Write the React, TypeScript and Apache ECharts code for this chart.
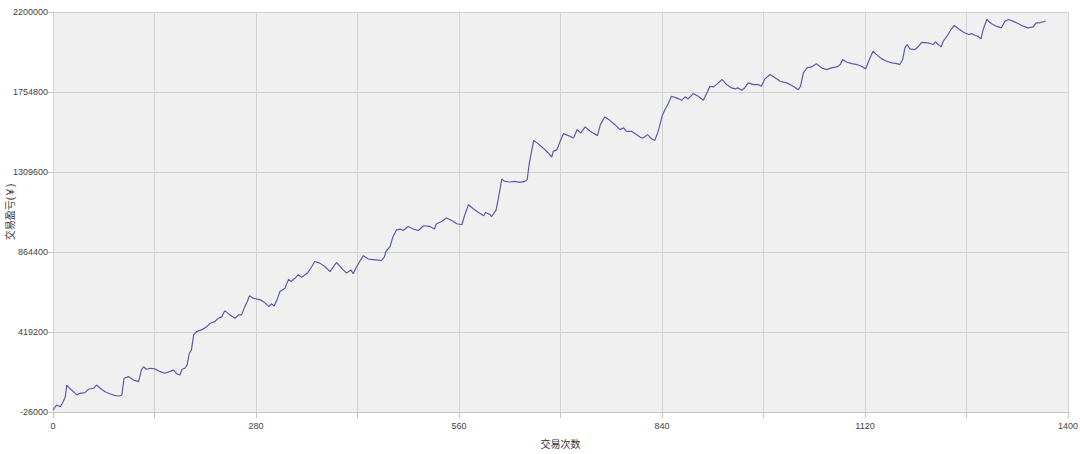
import React, { useEffect, useRef } from "react";
import * as echarts from "echarts";

// Trade index (交易次数)
const trades: number[] = [
  0, 5, 10, 14, 17, 19, 23, 33, 37, 44, 49, 56, 60, 65, 72, 79, 86, 92, 95, 98,
  104, 111, 118, 122, 125, 129, 134, 141, 148, 154, 161, 166, 171, 175, 178, 182, 185, 188, 191, 194,
  198, 205, 212, 217, 223, 228, 233,
  237, 244, 251, 256, 260, 265, 268, 271, 276, 286, 292, 298, 301, 305, 309, 313, 320, 325, 328, 334,
  338, 343, 351, 357, 361, 368, 375, 382, 391, 398, 405, 411, 414, 419, 423, 428, 435, 446, 453, 457, 459,
  465, 469, 474, 479, 483, 490, 497, 504, 511, 520, 526, 529, 536, 543, 550, 557, 564, 568, 573, 580,
  587, 594, 597, 603, 605, 611, 614, 619, 623, 630, 637, 644, 651, 654, 657, 663, 669, 676, 683, 688,
  690, 695, 699, 704,
  711, 718, 723, 728, 734, 741, 745, 751, 755, 761, 768, 775, 782, 787, 791, 798, 805, 810, 814, 820,
  826, 830, 834, 836, 840, 844, 849, 853, 860, 867, 872, 876, 883, 890, 897, 902, 906, 911, 915, 923,
  929, 936,
  941, 945, 950, 954, 959, 966, 973, 977, 982, 989, 996, 1003, 1012, 1021, 1028, 1031, 1035, 1040, 1046, 1053,
  1060, 1067, 1074, 1081, 1086, 1089, 1095, 1102, 1109, 1115, 1121, 1125, 1131, 1136, 1143, 1150, 1157, 1164, 1168,
  1172, 1175, 1178, 1182, 1189, 1194, 1198, 1207, 1214, 1217, 1221, 1225, 1228, 1233, 1238, 1243, 1249, 1256, 1263,
  1267, 1272, 1276, 1280, 1283, 1288, 1294, 1301, 1308, 1313, 1318, 1324, 1331, 1338, 1345, 1352, 1356, 1361, 1369,
];

// Cumulative profit/loss (交易盈亏 ￥)
const pnl: number[] = [
  -15000, 13000, 3500, 31000, 59000, 124000, 106000, 69000, 78000, 81500, 100500, 106000, 124000, 106000, 87000, 74000, 65000, 63000, 69000, 162000,
  171000, 152000, 143000, 208000, 226000, 212000, 217500, 213500, 198500, 189500, 198500, 208000, 185500, 180000, 212000, 217500, 236000, 301000, 319500, 403000,
  421000, 431000, 449000, 468000, 477000, 496000, 505000,
  538000, 514500, 496000, 514500, 514500, 564500, 588500, 620500, 607500, 598000, 583000, 560500, 576000, 564500, 598000, 644500, 663000, 713500, 700000, 719000,
  737500, 724500, 747000, 783500, 811500, 802500, 783500, 755500, 806000, 774500, 747000, 765000, 743000, 783500, 811500, 843000, 825000, 821000, 817000, 836000, 867000,
  895000, 951000, 988000, 992000, 984000, 1006500, 992000, 984000, 1010500, 1006500, 992000, 1021500, 1034500, 1053500, 1040000, 1021500, 1016000, 1071500, 1127500, 1103500,
  1084500, 1066000, 1084500, 1071500, 1062000, 1095500, 1155500, 1270500, 1257500, 1254000, 1257500, 1251500, 1257500, 1266500, 1359500, 1485500, 1467500, 1443500, 1415500, 1393000,
  1424500, 1434000, 1475500, 1523000,
  1512000, 1499000, 1545500, 1527000, 1560500, 1536000, 1527000, 1512000, 1573000, 1616000, 1597000, 1573000, 1545500, 1555000, 1536000, 1536000, 1517500, 1502500, 1499000, 1517500,
  1493500, 1485500, 1527000, 1555000, 1619500, 1656500, 1694000, 1731000, 1722000, 1708500, 1727500, 1716500, 1746000, 1731000, 1708500, 1750000, 1786500, 1783000, 1796000, 1824000,
  1796000, 1777500,
  1772000, 1777500, 1764500, 1777500, 1805500, 1796000, 1796000, 1786500, 1828000, 1852000, 1833500, 1814500, 1805500, 1786500, 1768000, 1786500, 1861000, 1889000, 1894500, 1911500,
  1889000, 1879500, 1889000, 1894500, 1907500, 1935500, 1920500, 1913000, 1907500, 1898000, 1883500, 1926000, 1981500, 1963000, 1939000, 1926000, 1917000, 1913000, 1907500,
  1935500, 2000500, 2019000, 1995000, 1991000, 2009500, 2031500, 2028500, 2019000, 2034000, 2019000, 2006000, 2037500, 2065000, 2098500, 2125000, 2106500, 2087500, 2074500,
  2080000, 2069000, 2065000, 2050500, 2102500, 2158000, 2136000, 2121000, 2112000, 2149000, 2158000, 2149000, 2136000, 2121000, 2112000, 2117500, 2140000, 2140000, 2149000,
];

// Axis ticks
const xTicks: number[] = [0, 280, 560, 840, 1120, 1400];
const yTicks: number[] = [-26000, 419200, 864400, 1309600, 1754800, 2200000];

const Y_MIN = yTicks[0];
const Y_STEP = yTicks[1] - yTicks[0];

export default function App() {
  const ref = useRef<HTMLDivElement>(null);
  useEffect(() => {
    document.body.style.margin = "0";
    if (!ref.current) return;
    const chart = echarts.init(ref.current, null, { renderer: "svg" });
    const font = "'Liberation Sans', 'Noto Sans CJK SC', sans-serif";
    const data = trades.map((t, i) => [t, pnl[i] - Y_MIN]);
    chart.setOption({
      animation: false,
      textStyle: { fontFamily: font },
      grid: {
        left: 53,
        right: 12,
        top: 12,
        bottom: 42,
        containLabel: false,
        outerBoundsMode: "none",
        show: true,
        backgroundColor: "#f0f0f0",
        borderWidth: 0,
      },
      xAxis: {
        type: "value",
        min: xTicks[0],
        max: xTicks[xTicks.length - 1],
        interval: (xTicks[1] - xTicks[0]) / 2,
        name: "交易次数",
        nameLocation: "middle",
        nameGap: 27,
        nameMoveOverlap: false,
        nameTextStyle: { fontSize: 10, color: "#333", fontFamily: font },
        axisLine: { show: true, lineStyle: { color: "#c4c4c4" } },
        axisTick: { show: true, length: 6, lineStyle: { color: "#c4c4c4" } },
        axisLabel: {
          fontSize: 9,
          color: "#444",
          margin: 9,
          fontFamily: font,
          formatter: (v: number) => (xTicks.includes(v) ? String(v) : ""),
        },
        splitLine: { show: true, lineStyle: { color: "#d2d2d2", width: 1 } },
      },
      yAxis: {
        type: "value",
        min: 0,
        max: yTicks[yTicks.length - 1] - Y_MIN,
        interval: Y_STEP,
        name: "交易盈亏(￥)",
        nameLocation: "middle",
        nameGap: 38,
        nameMoveOverlap: false,
        nameTextStyle: { fontSize: 10, color: "#333", fontFamily: font },
        axisLine: { show: true, lineStyle: { color: "#d2d2d2" } },
        axisTick: { show: true, length: 5, lineStyle: { color: "#c4c4c4" } },
        axisLabel: {
          fontSize: 9,
          color: "#444",
          margin: 5,
          fontFamily: font,
          formatter: (v: number) => String(Math.round(v + Y_MIN)),
        },
        splitLine: { show: true, lineStyle: { color: "#d2d2d2", width: 1 } },
      },
      series: [
        {
          type: "line",
          data,
          showSymbol: false,
          symbol: "none",
          lineStyle: { color: "#5c5caa", width: 1.2 },
        },
      ],
    });
    return () => chart.dispose();
  }, []);
  return <div ref={ref} style={{ width: 1080, height: 454 }} />;
}
